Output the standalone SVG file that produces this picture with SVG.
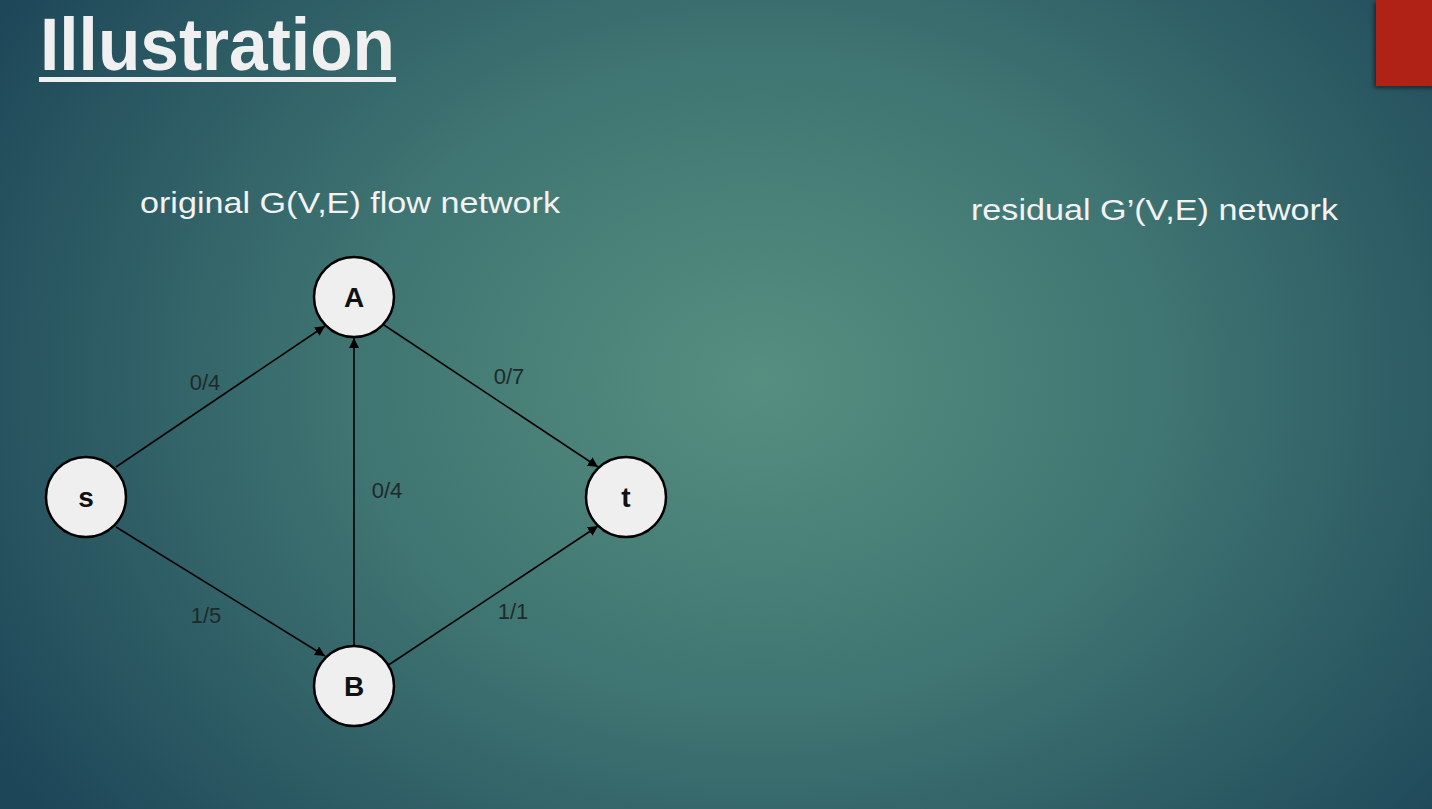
<svg xmlns="http://www.w3.org/2000/svg" width="1432" height="809" viewBox="0 0 1432 809">
<defs>
<radialGradient id="bg" cx="760" cy="380" r="900" gradientUnits="userSpaceOnUse" gradientTransform="translate(760 380) scale(1 0.8) translate(-760 -380)">
<stop offset="0" stop-color="#568f80"/>
<stop offset="0.45" stop-color="#3f7572"/>
<stop offset="1" stop-color="#1d4658"/>
</radialGradient>
<marker id="arr" viewBox="0 0 10 10" refX="10" refY="5" markerWidth="10" markerHeight="10" markerUnits="userSpaceOnUse" orient="auto">
<path d="M0,0 L10,5 L0,10 z" fill="#000"/>
</marker>
<filter id="sh" x="-20%" y="-20%" width="140%" height="140%">
<feDropShadow dx="-2" dy="2" stdDeviation="2" flood-color="#000" flood-opacity="0.5"/>
</filter>
</defs>
<style>
.node circle{fill:#efefef;stroke:#000;stroke-width:2.5}
.node text{font-family:"Liberation Sans",Arial,sans-serif;font-weight:bold;font-size:28px;fill:#111;text-anchor:middle}
.edge{stroke:#000;stroke-width:1.6;fill:none;marker-end:url(#arr)}
.lbl{font-family:"Liberation Sans",Arial,sans-serif;font-size:22px;fill:#1e2a2a;text-anchor:middle}
.sub{font-family:"Liberation Sans",Arial,sans-serif;font-size:30px;fill:#f2f2f2}
</style>
<rect width="1432" height="809" fill="url(#bg)"/>
<rect x="1376" y="0" width="60" height="86" fill="#b02418" filter="url(#sh)"/>
<g id="title">
<text x="40" y="70" font-family="'Liberation Sans',Arial,sans-serif" font-weight="bold" font-size="74" fill="#f0f0f0" textLength="355" lengthAdjust="spacingAndGlyphs">Illustration</text>
<rect x="39" y="77" width="357" height="5" fill="#f0f0f0"/>
</g>
<text class="sub" x="140" y="213" textLength="420" lengthAdjust="spacingAndGlyphs">original G(V,E) flow network</text>
<text class="sub" x="971" y="220" textLength="367" lengthAdjust="spacingAndGlyphs">residual G’(V,E) network</text>
<g id="connectors">
<line class="edge" x1="116" y1="467" x2="325" y2="326"/>
<line class="edge" x1="384" y1="325" x2="598" y2="467"/>
<line class="edge" x1="354" y1="645" x2="354" y2="338"/>
<line class="edge" x1="116" y1="527" x2="325" y2="656"/>
<line class="edge" x1="384" y1="668" x2="598" y2="526"/>
<text class="lbl" x="205" y="390">0/4</text>
<text class="lbl" x="509" y="384">0/7</text>
<text class="lbl" x="387" y="498">0/4</text>
<text class="lbl" x="206" y="623">1/5</text>
<text class="lbl" x="513" y="619">1/1</text>
</g>
<g id="node-s" class="node"><circle cx="86" cy="497" r="40"/><text x="86" y="507">s</text></g>
<g id="node-A" class="node"><circle cx="354" cy="297" r="40"/><text x="354" y="307">A</text></g>
<g id="node-t" class="node"><circle cx="626" cy="497" r="40"/><text x="626" y="507">t</text></g>
<g id="node-B" class="node"><circle cx="354" cy="686" r="40"/><text x="354" y="696">B</text></g>
</svg>
